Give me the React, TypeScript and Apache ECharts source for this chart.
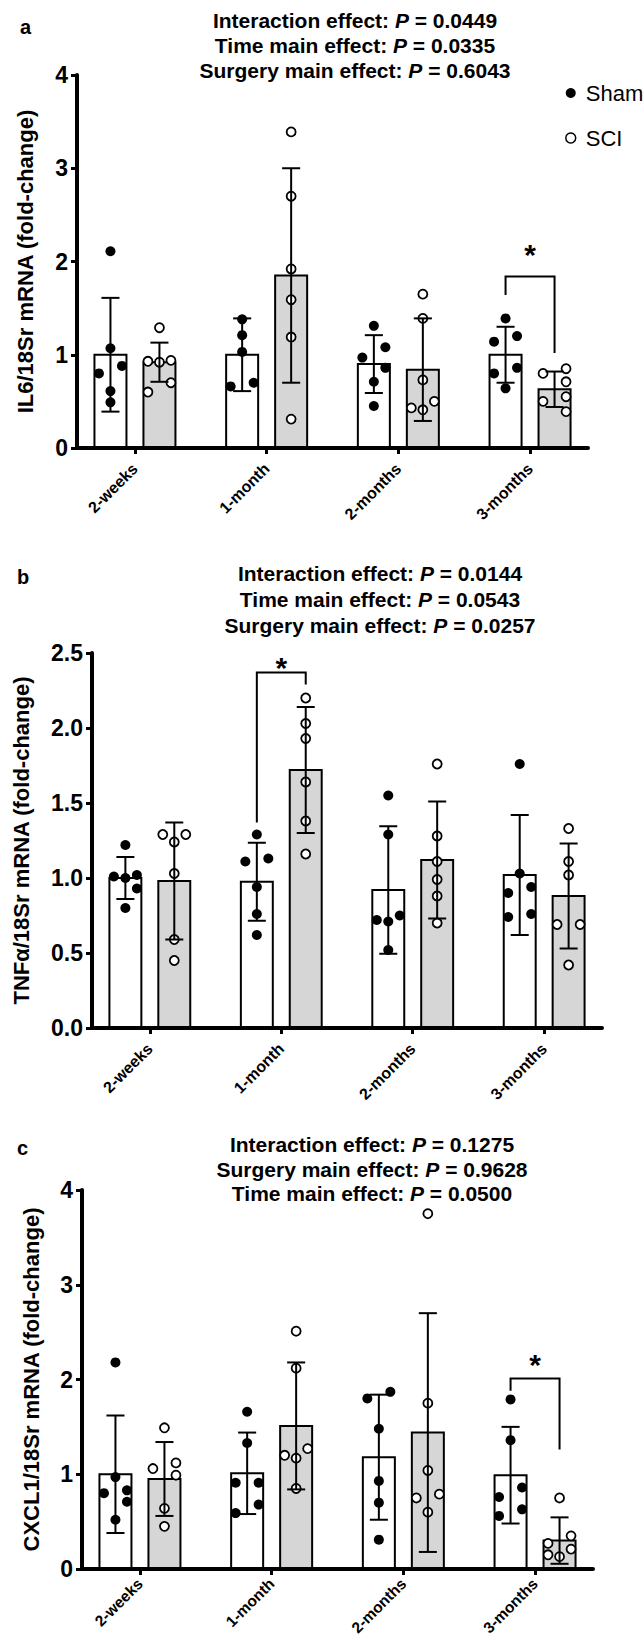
import React, { useEffect, useRef } from 'react';
import * as echarts from 'echarts';

// ---------------- data ----------------
const categories = ['2-weeks', '1-month', '2-months', '3-months'];

// Panel a: IL6
const il6ShamMean = [1.0, 1.0, 0.9, 1.0];
const il6ShamSD = [0.61, 0.39, 0.31, 0.3];
const il6SciMean = [0.92, 1.85, 0.84, 0.63];
const il6SciSD = [0.21, 1.15, 0.55, 0.19];
const il6ShamPoints = [
  [2.11, 1.07, 0.88, 0.8, 0.61, 0.49],
  [1.38, 1.21, 1.03, 0.7, 0.66],
  [1.31, 1.08, 0.97, 0.86, 0.71, 0.45],
  [1.39, 1.2, 1.14, 0.86, 0.8, 0.64],
];
const il6SciPoints = [
  [1.29, 0.94, 0.93, 0.92, 0.7, 0.6],
  [3.39, 2.7, 1.92, 1.59, 1.19, 0.31],
  [1.65, 1.39, 0.73, 0.5, 0.43, 0.41],
  [0.85, 0.8, 0.71, 0.55, 0.5, 0.39],
];
// [category, bracket top, left leg end, right leg end, star]
const il6Sig = [[3, 1.84, 1.64, 1.02, 2.16]];
const il6Stats = [
  ['Interaction effect', '0.0449'],
  ['Time main effect', '0.0335'],
  ['Surgery main effect', '0.6043'],
];

// Panel b: TNFα
const tnfShamMean = [1.0, 0.975, 0.92, 1.02];
const tnfShamSD = [0.14, 0.26, 0.425, 0.4];
const tnfSciMean = [0.98, 1.72, 1.12, 0.88];
const tnfSciSD = [0.39, 0.42, 0.39, 0.35];
const tnfShamPoints = [
  [1.22, 1.02, 1.01, 1.0, 0.93, 0.8],
  [1.29, 1.13, 1.11, 0.94, 0.76, 0.62],
  [1.55, 1.29, 0.75, 0.72, 0.71, 0.52],
  [1.76, 1.03, 0.94, 0.9, 0.76, 0.74],
];
const tnfSciPoints = [
  [1.29, 1.29, 1.24, 1.03, 0.59, 0.45],
  [2.2, 2.03, 1.93, 1.64, 1.38, 1.16],
  [1.76, 1.28, 1.11, 0.99, 0.88, 0.7],
  [1.33, 1.11, 1.02, 0.69, 0.69, 0.42],
];
const tnfSig = [[1, 2.37, 1.37, 2.29, 2.46]];
const tnfStats = [
  ['Interaction effect', '0.0144'],
  ['Time main effect', '0.0543'],
  ['Surgery main effect', '0.0257'],
];

// Panel c: CXCL1
const cxclShamMean = [1.0, 1.01, 1.18, 0.99];
const cxclShamSD = [0.62, 0.43, 0.66, 0.51];
const cxclSciMean = [0.95, 1.51, 1.44, 0.3];
const cxclSciSD = [0.39, 0.67, 1.26, 0.245];
const cxclShamPoints = [
  [2.18, 0.97, 0.83, 0.8, 0.71, 0.52],
  [1.66, 1.33, 0.91, 0.91, 0.68, 0.59],
  [1.87, 1.8, 1.48, 0.93, 0.7, 0.31],
  [1.79, 1.36, 0.86, 0.76, 0.63, 0.56],
];
const cxclSciPoints = [
  [1.49, 1.12, 1.06, 0.99, 0.64, 0.45],
  [2.51, 2.12, 1.27, 1.2, 1.17, 0.85],
  [3.75, 1.75, 1.04, 0.79, 0.75, 0.6],
  [0.75, 0.35, 0.27, 0.21, 0.15, 0.13],
];
const cxclSig = [[3, 2.01, 1.88, 1.26, 2.24]];
const cxclStats = [
  ['Interaction effect', '0.1275'],
  ['Surgery main effect', '0.9628'],
  ['Time main effect', '0.0500'],
];

// ---------------- layout / style ----------------
const FONT = '"Liberation Sans", Arial, Helvetica, sans-serif';
const X_MIN = -0.44;
const X_MAX = 3.44;
const BAR_SHIFT = 0.186; // in category spacings
const BAR_WIDTH = 0.243;
const CAP_WIDTH = 0.137;
const SCI_FILL = '#d6d6d6';

const panels = [
  {
    letter: 'a', letterX: 20, letterY: 27,
    title: 'IL6/18Sr mRNA (fold-change)', nameGap: 41,
    yMax: 4, yInterval: 1, decimals: 0,
    grid: { left: 77, top: 75, width: 511, height: 373 },
    xLabelMargin: 18, xLabelSize: 16,
    statsX: 355, statsY: [20, 45, 70], stats: il6Stats,
    shamMean: il6ShamMean, shamSD: il6ShamSD, sciMean: il6SciMean, sciSD: il6SciSD,
    shamPts: il6ShamPoints, sciPts: il6SciPoints, sig: il6Sig,
  },
  {
    letter: 'b', letterX: 17, letterY: 577,
    title: 'TNFα/18Sr mRNA (fold-change)', nameGap: 60,
    yMax: 2.5, yInterval: 0.5, decimals: 1,
    grid: { left: 92, top: 653, width: 510, height: 375 },
    xLabelMargin: 18, xLabelSize: 16,
    statsX: 380, statsY: [573, 599, 625], stats: tnfStats,
    shamMean: tnfShamMean, shamSD: tnfShamSD, sciMean: tnfSciMean, sciSD: tnfSciSD,
    shamPts: tnfShamPoints, sciPts: tnfSciPoints, sig: tnfSig,
  },
  {
    letter: 'c', letterX: 17, letterY: 1148,
    title: 'CXCL1/18Sr mRNA (fold-change)', nameGap: 40,
    yMax: 4, yInterval: 1, decimals: 0,
    grid: { left: 82, top: 1190, width: 511, height: 379 },
    xLabelMargin: 12, xLabelSize: 15.5,
    statsX: 372, statsY: [1144, 1169, 1193], stats: cxclStats,
    shamMean: cxclShamMean, shamSD: cxclShamSD, sciMean: cxclSciMean, sciSD: cxclSciSD,
    shamPts: cxclShamPoints, sciPts: cxclSciPoints, sig: cxclSig,
  },
];

// beeswarm-like horizontal spreading (pixel offsets) for overlapping points
function swarm(values: number[], pxPerUnit: number, thresh = 10.5, step = 11.5): number[] {
  const order = values.map((_, i) => i).sort((a, b) => values[b] - values[a]);
  const placed: { x: number; y: number }[] = [];
  const out = new Array(values.length).fill(0);
  for (const i of order) {
    const y = values[i] * pxPerUnit;
    const isolated = values.every((v, j) => j === i || Math.abs(v - values[i]) * pxPerUnit >= thresh);
    const cands = isolated ? [0] : [step, -step, 0, 2 * step, -2 * step, 3 * step, -3 * step];
    let chosen = cands[cands.length - 1];
    for (const c of cands) {
      if (placed.every((p) => Math.hypot(p.x - c, p.y - y) >= thresh)) {
        chosen = c;
        break;
      }
    }
    placed.push({ x: chosen, y });
    out[i] = chosen;
  }
  return out;
}

function barItem(params: any, api: any) {
  const cat = api.value(0), mean = api.value(1), sign = api.value(2);
  const unit = api.size([1, 0])[0];
  const base = api.coord([cat, 0]);
  const top = api.coord([cat, mean]);
  const cx = base[0] + sign * BAR_SHIFT * unit;
  const w = BAR_WIDTH * unit;
  return {
    type: 'rect',
    shape: { x: cx - w / 2, y: top[1], width: w, height: base[1] - top[1] },
    style: { fill: sign < 0 ? '#ffffff' : SCI_FILL, stroke: '#000', lineWidth: 2 },
  };
}

function errItem(params: any, api: any) {
  const cat = api.value(0), m = api.value(1), sign = api.value(2), sd = api.value(3);
  const unit = api.size([1, 0])[0];
  const x = api.coord([cat, m])[0] + sign * BAR_SHIFT * unit;
  const yT = api.coord([cat, m + sd])[1];
  const yB = api.coord([cat, m - sd])[1];
  const hw = (CAP_WIDTH * unit) / 2;
  const st = { stroke: '#000', lineWidth: 2 };
  return {
    type: 'group',
    children: [
      { type: 'line', shape: { x1: x, y1: yT, x2: x, y2: yB }, style: st },
      { type: 'line', shape: { x1: x - hw, y1: yT, x2: x + hw, y2: yT }, style: st },
      { type: 'line', shape: { x1: x - hw, y1: yB, x2: x + hw, y2: yB }, style: st },
    ],
  };
}

function dotItem(params: any, api: any) {
  const cat = api.value(0), v = api.value(1), sign = api.value(2), off = api.value(3);
  const unit = api.size([1, 0])[0];
  const p = api.coord([cat, v]);
  const cx = p[0] + sign * BAR_SHIFT * unit + off;
  return sign < 0
    ? { type: 'circle', shape: { cx, cy: p[1], r: 5 }, style: { fill: '#000' } }
    : { type: 'circle', shape: { cx, cy: p[1], r: 4.5 }, style: { fill: '#fff', stroke: '#000', lineWidth: 1.8 } };
}

function sigItem(params: any, api: any) {
  const cat = api.value(0);
  const unit = api.size([1, 0])[0];
  const xc = api.coord([cat, 0])[0];
  const xl = xc - BAR_SHIFT * unit;
  const xr = xc + BAR_SHIFT * unit;
  const yTop = api.coord([cat, api.value(1)])[1];
  const yL = api.coord([cat, api.value(2)])[1];
  const yR = api.coord([cat, api.value(3)])[1];
  const yS = api.coord([cat, api.value(4)])[1];
  return {
    type: 'group',
    children: [
      {
        type: 'polyline',
        shape: { points: [[xl, yL], [xl, yTop], [xr, yTop], [xr, yR]] },
        style: { stroke: '#000', lineWidth: 2, fill: 'none' },
      },
      {
        type: 'text',
        style: {
          text: '*', x: xc, y: yS + 8, align: 'center', verticalAlign: 'middle',
          fontSize: 30, fontWeight: 'bold', fontFamily: FONT, fill: '#000',
        },
      },
    ],
  };
}

function buildOption() {
  const grids: any[] = [];
  const xAxes: any[] = [];
  const yAxes: any[] = [];
  const series: any[] = [];
  const graphics: any[] = [];

  panels.forEach((pn, i) => {
    grids.push({ ...pn.grid, containLabel: false, outerBoundsMode: 'none' });
    xAxes.push({
      gridIndex: i, type: 'value', min: X_MIN, max: X_MAX, z: 5,
      axisLine: { show: true, onZero: false, lineStyle: { color: '#000', width: 4 } },
      axisTick: { show: true, customValues: [0, 1, 2, 3], length: 6, lineStyle: { color: '#000', width: 3 } },
      axisLabel: {
        show: true, customValues: [0, 1, 2, 3],
        formatter: (v: number) => categories[Math.round(v)] ?? '',
        rotate: 45, margin: pn.xLabelMargin, fontSize: pn.xLabelSize, fontWeight: 'bold', color: '#000', fontFamily: FONT,
      },
      splitLine: { show: false },
    });
    yAxes.push({
      gridIndex: i, type: 'value', min: 0, max: pn.yMax, interval: pn.yInterval, z: 5,
      axisLine: { show: true, onZero: false, lineStyle: { color: '#000', width: 4 } },
      axisTick: { show: true, length: 6, lineStyle: { color: '#000', width: 3 } },
      axisLabel: {
        margin: 9, fontSize: 23, fontWeight: 'bold', color: '#000', fontFamily: FONT,
        formatter: (v: number) => v.toFixed(pn.decimals),
      },
      splitLine: { show: false },
      name: pn.title, nameLocation: 'middle', nameGap: pn.nameGap,
      nameTextStyle: { fontSize: 22, fontWeight: 'bold', color: '#000', fontFamily: FONT },
    });

    const barData: number[][] = [];
    categories.forEach((_, c) => {
      barData.push([c, pn.shamMean[c], -1, pn.shamSD[c]]);
      barData.push([c, pn.sciMean[c], 1, pn.sciSD[c]]);
    });
    const pxPerUnit = pn.grid.height / pn.yMax;
    const shamDots: number[][] = [];
    const sciDots: number[][] = [];
    categories.forEach((_, c) => {
      const so = swarm(pn.shamPts[c], pxPerUnit);
      pn.shamPts[c].forEach((v, k) => shamDots.push([c, v, -1, so[k]]));
      const co = swarm(pn.sciPts[c], pxPerUnit);
      pn.sciPts[c].forEach((v, k) => sciDots.push([c, v, 1, co[k]]));
    });
    const common = { xAxisIndex: i, yAxisIndex: i, encode: { x: 0, y: 1 }, clip: false };
    series.push({ ...common, type: 'custom', name: 'bars' + i, z: 2, renderItem: barItem, data: barData });
    series.push({
      ...common, type: 'custom', name: 'Sham', z: 3, renderItem: dotItem, data: shamDots,
      itemStyle: { color: '#000' },
    });
    series.push({
      ...common, type: 'custom', name: 'SCI', z: 3, renderItem: dotItem, data: sciDots,
      itemStyle: { color: '#fff', borderColor: '#000', borderWidth: 1.5 },
    });
    series.push({ ...common, type: 'custom', name: 'err' + i, z: 4, renderItem: errItem, data: barData });
    series.push({ ...common, type: 'custom', name: 'sig' + i, z: 4, renderItem: sigItem, data: pn.sig });

    graphics.push({
      type: 'text', x: pn.letterX, y: pn.letterY,
      style: { text: pn.letter, fontSize: 20, fontWeight: 'bold', fontFamily: FONT, fill: '#000', align: 'left', verticalAlign: 'middle' },
    });
    pn.stats.forEach((s, k) => {
      graphics.push({
        type: 'text', x: pn.statsX, y: pn.statsY[k],
        style: {
          text: `{b|${s[0]}: }{i|P}{b| = ${s[1]}}`,
          rich: {
            b: { fontSize: 21, fontWeight: 'bold', fontFamily: FONT, fill: '#000' },
            i: { fontSize: 21, fontWeight: 'bold', fontStyle: 'italic', fontFamily: FONT, fill: '#000' },
          },
          fontSize: 21, fontWeight: 'bold', fontFamily: FONT, fill: '#000',
          align: 'center', verticalAlign: 'middle',
        },
      });
    });
  });

  return {
    animation: false,
    backgroundColor: '#ffffff',
    grid: grids,
    xAxis: xAxes,
    yAxis: yAxes,
    legend: {
      show: true, orient: 'vertical', left: 560, top: 77, itemWidth: 10, itemHeight: 10, itemGap: 23,
      selectedMode: false,
      textStyle: { fontSize: 22, color: '#000', fontFamily: FONT, padding: [0, 0, 0, 5] },
      data: [
        { name: 'Sham', icon: 'circle', itemStyle: { color: '#000', borderWidth: 0 } },
        { name: 'SCI', icon: 'circle', itemStyle: { color: '#fff', borderColor: '#000', borderWidth: 1.5 } },
      ],
    },
    graphic: graphics,
    series,
  };
}

export default function App() {
  const ref = useRef<HTMLDivElement>(null);
  useEffect(() => {
    if (!ref.current) return;
    const chart = echarts.init(ref.current, null, { renderer: 'svg' });
    chart.setOption(buildOption() as any);
    return () => chart.dispose();
  }, []);
  return (
    <div
      ref={ref}
      style={{ position: 'absolute', left: 0, top: 0, width: 644, height: 1640, background: '#fff' }}
    />
  );
}
